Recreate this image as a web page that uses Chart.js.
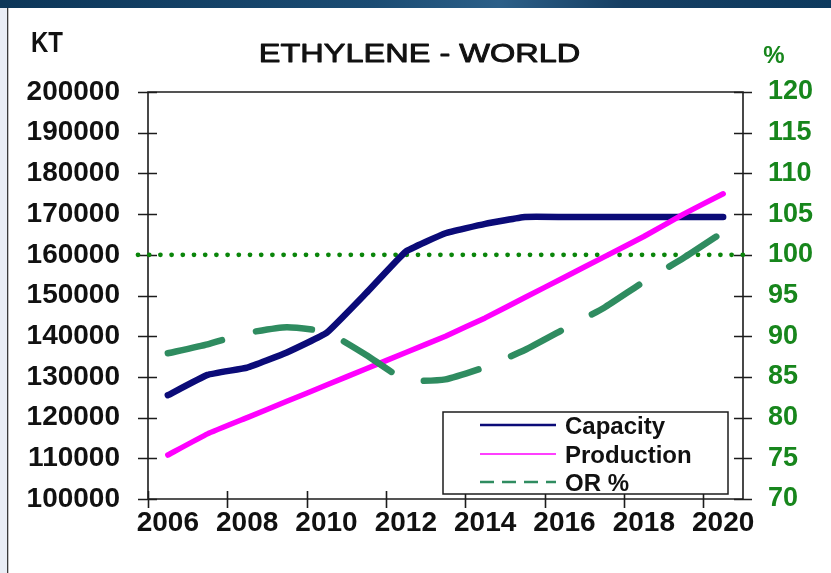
<!DOCTYPE html>
<html>
<head>
<meta charset="utf-8">
<script src="https://cdn.jsdelivr.net/npm/chart.js@4.4.1/dist/chart.umd.min.js"></script>
<style>
  html, body { margin: 0; padding: 0; background: #ffffff; overflow: hidden; }
  canvas { display: block; }
</style>
</head>
<body>
<canvas id="chart" width="831" height="573"></canvas>
<script>
// World ethylene balance, 2006-2020
const years = ['2006', '2007', '2008', '2009', '2010', '2011', '2012', '2013',
               '2014', '2015', '2016', '2017', '2018', '2019', '2020'];
const capacityKt = [125500, 130500, 132300, 136000, 140800, 150600, 160800, 165300,
                    167600, 169300, 169300, 169300, 169300, 169300, 169300];
const productionKt = [110800, 116000, 120000, 124000, 128000, 132000, 136000, 140000,
                      144500, 149500, 154500, 159500, 164500, 170000, 175000];
const operatingRatePct = [87.9, 89.0, 90.4, 91.1, 90.5, 87.7, 84.6, 84.7,
                          86.2, 88.3, 90.9, 93.5, 96.7, 99.6, 102.8];
const fullRatePct = 100;
const ktAxis = { min: 100000, max: 200000, step: 10000 };
const pctAxis = { min: 70, max: 120, step: 5 };

const FONT = "'Liberation Sans', Arial, Helvetica, sans-serif";
const GREEN_TEXT = '#17861c';
const NAVY = '#0b0b78';
const MAGENTA = '#ff00ff';
const SEA = '#2f8c60';

// text drawn with an optional horizontal stretch and stroke weight
function stretchedText(ctx, text, x, y, font, color, align, sx, weight) {
  ctx.save();
  ctx.font = font;
  ctx.fillStyle = color;
  ctx.strokeStyle = color;
  ctx.textBaseline = 'alphabetic';
  const w = ctx.measureText(text).width * sx;
  let left = x;
  if (align === 'center') left = x - w / 2;
  else if (align === 'right') left = x - w;
  ctx.translate(left, y);
  ctx.scale(sx, 1);
  ctx.textAlign = 'left';
  ctx.fillText(text, 0, 0);
  if (weight) {
    ctx.lineWidth = weight;
    ctx.lineJoin = 'round';
    ctx.strokeText(text, 0, 0);
  }
  ctx.restore();
}

const backdrop = {
  id: 'backdrop',
  beforeDraw(chart) {
    const { ctx, width, height } = chart;
    ctx.save();
    ctx.fillStyle = '#ffffff';
    ctx.fillRect(0, 0, width, height);
    // slide header band
    const g = ctx.createLinearGradient(0, 0, width, 0);
    g.addColorStop(0, '#0c3658');
    g.addColorStop(0.45, '#1b4c73');
    g.addColorStop(0.6, '#2c5f88');
    g.addColorStop(0.75, '#163f63');
    g.addColorStop(1, '#0d3a5e');
    ctx.fillStyle = g;
    ctx.fillRect(0, 0, width, 8);
    // left margin strip
    ctx.fillStyle = '#e9edf5';
    ctx.fillRect(0, 8, 7, height - 8);
    ctx.fillStyle = '#3a3a3a';
    ctx.fillRect(7, 8, 1.3, height - 8);
    ctx.restore();
  }
};

const frame = {
  id: 'frame',
  beforeDatasetsDraw(chart) {
    const { ctx, chartArea: a, scales } = chart;
    const x = scales.x, yl = scales.y, yr = scales.y1;
    ctx.save();
    ctx.strokeStyle = '#1c1c1c';
    ctx.lineWidth = 1.6;
    ctx.lineCap = 'butt';
    ctx.beginPath();
    ctx.rect(a.left, a.top, a.right - a.left, a.bottom - a.top);
    ctx.stroke();
    ctx.beginPath();
    yl.ticks.forEach(t => {
      const py = Math.round(yl.getPixelForValue(t.value)) + 0.5;
      ctx.moveTo(a.left - 10, py); ctx.lineTo(a.left + 9, py);
    });
    yr.ticks.forEach(t => {
      const py = Math.round(yr.getPixelForValue(t.value)) + 0.5;
      ctx.moveTo(a.right - 9, py); ctx.lineTo(a.right + 9, py);
    });
    for (let k = 0; k < years.length; k += 2) {
      const px = Math.round(x.getPixelForValue(k - 0.5)) + 0.5;
      ctx.moveTo(px, a.bottom - 8); ctx.lineTo(px, a.bottom + 9);
    }
    ctx.stroke();
    // full-utilisation reference line
    const py = yr.getPixelForValue(fullRatePct);
    ctx.strokeStyle = '#0a850a';
    ctx.lineWidth = 4.8;
    ctx.lineCap = 'round';
    ctx.setLineDash([0, 11.2]);
    ctx.beginPath();
    ctx.moveTo(a.left - 10, py);
    ctx.lineTo(a.right + 9, py);
    ctx.stroke();
    ctx.restore();
  }
};

const legendBox = {
  id: 'legendBox',
  afterDatasetsDraw(chart) {
    const { ctx, chartArea: a } = chart;
    const right = a.right - 15, bottom = a.bottom - 5;
    const left = right - 285, top = bottom - 82;
    ctx.save();
    ctx.fillStyle = '#ffffff';
    ctx.fillRect(left, top, right - left, bottom - top);
    ctx.strokeStyle = '#1c1c1c';
    ctx.lineWidth = 1.5;
    ctx.strokeRect(left, top, right - left, bottom - top);
    const rows = [
      { ds: chart.data.datasets[0], y: top + 13, w: 2.6, dash: [] },
      { ds: chart.data.datasets[1], y: top + 42, w: 1.6, dash: [] },
      { ds: chart.data.datasets[2], y: top + 70, w: 2.6, dash: [14, 8] }
    ];
    rows.forEach(r => {
      ctx.strokeStyle = r.ds.borderColor;
      ctx.lineWidth = r.w;
      ctx.setLineDash(r.dash);
      ctx.beginPath();
      ctx.moveTo(left + 37, r.y);
      ctx.lineTo(left + 113, r.y);
      ctx.stroke();
      ctx.setLineDash([]);
      stretchedText(ctx, r.ds.label, left + 122, r.y + 8.5, 'bold 24px ' + FONT, '#111111', 'left', 1.0, 0);
    });
    ctx.restore();
  }
};

const headings = {
  id: 'headings',
  afterDraw(chart) {
    const { ctx, chartArea: a } = chart;
    stretchedText(ctx, 'ETHYLENE - WORLD', (a.left + a.right) / 2 - 26, 62, '26px ' + FONT, '#111111', 'center', 1.25, 0.9);
    stretchedText(ctx, 'KT', 31, 52, 'bold 30px ' + FONT, '#111111', 'left', 0.8, 0);
    stretchedText(ctx, '%', a.right + 31, 63, 'bold 24px ' + FONT, GREEN_TEXT, 'center', 1.0, 0);
  }
};

new Chart(document.getElementById('chart'), {
  type: 'line',
  data: {
    labels: years,
    datasets: [
      {
        label: 'Capacity',
        data: capacityKt,
        yAxisID: 'y',
        borderColor: NAVY,
        borderWidth: 6.5,
        borderCapStyle: 'round',
        borderJoinStyle: 'round',
        pointRadius: 0,
        tension: 0.1,
        order: 2
      },
      {
        label: 'Production',
        data: productionKt,
        yAxisID: 'y',
        borderColor: MAGENTA,
        borderWidth: 5.5,
        borderCapStyle: 'round',
        borderJoinStyle: 'round',
        pointRadius: 0,
        tension: 0.1,
        order: 1
      },
      {
        label: 'OR %',
        data: operatingRatePct,
        yAxisID: 'y1',
        borderColor: SEA,
        borderWidth: 6.5,
        borderDash: [56, 35],
        borderCapStyle: 'round',
        borderJoinStyle: 'round',
        pointRadius: 0,
        tension: 0.15,
        order: 0
      }
    ]
  },
  options: {
    responsive: false,
    animation: false,
    devicePixelRatio: 1,
    layout: { padding: { top: 92, left: 0, right: 0, bottom: 0 } },
    plugins: {
      legend: { display: false },
      title: { display: false },
      tooltip: { enabled: false }
    },
    scales: {
      x: {
        type: 'category',
        offset: true,
        grid: { display: false, drawTicks: false, offset: true },
        border: { display: false },
        ticks: {
          autoSkip: false,
          maxRotation: 0,
          minRotation: 0,
          padding: 7,
          color: '#111111',
          font: { family: FONT, size: 28, weight: 'bold' },
          callback: function (value, index) {
            return index % 2 === 0 ? this.getLabelForValue(value) : '';
          }
        },
        afterFit: s => { s.height = 74; }
      },
      y: {
        position: 'left',
        min: ktAxis.min,
        max: ktAxis.max,
        grid: { display: false, drawTicks: false },
        border: { display: false },
        ticks: {
          stepSize: ktAxis.step,
          padding: 28,
          color: '#111111',
          font: { family: FONT, size: 28, weight: 'bold' },
          callback: v => String(v)
        },
        afterFit: s => { s.width = 148; }
      },
      y1: {
        position: 'right',
        min: pctAxis.min,
        max: pctAxis.max,
        grid: { display: false, drawTicks: false },
        border: { display: false },
        ticks: {
          stepSize: pctAxis.step,
          padding: 25,
          color: GREEN_TEXT,
          font: { family: FONT, size: 27, weight: 'bold' }
        },
        afterFit: s => { s.width = 88; }
      }
    }
  },
  plugins: [backdrop, frame, legendBox, headings]
});
</script>
</body>
</html>
